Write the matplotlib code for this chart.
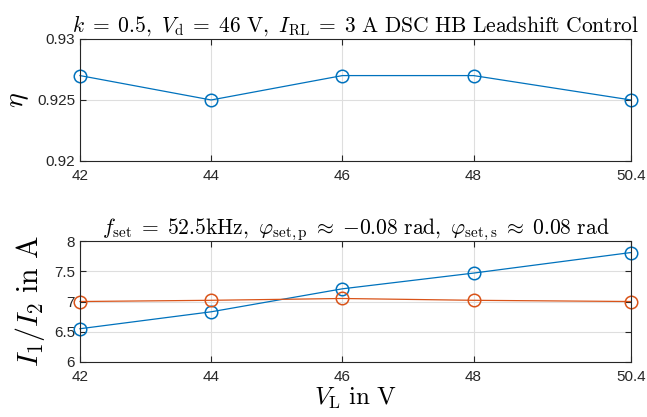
import matplotlib
matplotlib.use("Agg")
import matplotlib.pyplot as plt

plt.rcParams['font.family'] = ['Liberation Sans', 'DejaVu Sans']
plt.rcParams['mathtext.fontset'] = 'cm'

# Input voltage sweep
v_l = [42, 44, 46, 48, 50.4]
x_ticks = [42, 44, 46, 48, 50.4]
x_tick_labels = ['42', '44', '46', '48', '50.4']

# Efficiency
eta = [0.927, 0.925, 0.927, 0.927, 0.925]
eta_ticks = [0.92, 0.925, 0.93]
eta_tick_labels = ['0.92', '0.925', '0.93']

# Primary / secondary currents
i_1 = [6.55, 6.83, 7.21, 7.47, 7.81]
i_2 = [7.00, 7.02, 7.05, 7.02, 7.00]
i_ticks = [6, 6.5, 7, 7.5, 8]
i_tick_labels = ['6', '6.5', '7', '7.5', '8']

blue = '#0072BD'
orange = '#D95319'

fig = plt.figure(figsize=(6.47, 4.17), dpi=100)
ax1 = fig.add_axes([0.1236, 0.614, 0.8517, 0.2925])
ax2 = fig.add_axes([0.1236, 0.1319, 0.8517, 0.2901])


def style(ax):
    ax.grid(True, color='#dedede', linewidth=0.8)
    ax.set_axisbelow(True)
    ax.tick_params(direction='in', top=True, right=True, length=4,
                   width=0.8, labelsize=11, colors='#262626')
    ax.tick_params(axis='x', pad=6)
    for s in ax.spines.values():
        s.set_color('#262626')
        s.set_linewidth(0.8)
    ax.set_xlim(42, 50.4)
    ax.set_xticks(x_ticks)
    ax.set_xticklabels(x_tick_labels)


ax1.plot(v_l, eta, color=blue, linewidth=0.9, marker='o', markersize=9,
         markerfacecolor='none', markeredgewidth=1.1, clip_on=False)
style(ax1)
ax1.set_ylim(0.92, 0.93)
ax1.set_yticks(eta_ticks)
ax1.set_yticklabels(eta_tick_labels)
ax1.set_ylabel(r'$\eta$', fontsize=20, labelpad=4)
ax1.set_title(r'$k\;=\;0.5,\ V_\mathrm{d}\;=\;46\ \mathrm{V},\ I_\mathrm{RL}\;=\;3\ \mathrm{A\ DSC\ HB\ Leadshift\ Control}$',
              fontsize=15.5, pad=5)

ax2.plot(v_l, i_1, color=blue, linewidth=0.9, marker='o', markersize=9,
         markerfacecolor='none', markeredgewidth=1.1, clip_on=False)
ax2.plot(v_l, i_2, color=orange, linewidth=0.9, marker='o', markersize=9,
         markerfacecolor='none', markeredgewidth=1.1, clip_on=False)
style(ax2)
ax2.set_ylim(6, 8)
ax2.set_yticks(i_ticks)
ax2.set_yticklabels(i_tick_labels)
ax2.set_ylabel(r'$I_1/I_2\ \mathrm{in\ A}$', fontsize=21.5, labelpad=5)
ax2.set_xlabel(r'$V_\mathrm{L}\ \mathrm{in\ V}$', fontsize=18, labelpad=1)
ax2.set_title(r'$f_\mathrm{set}\;=\;52.5\mathrm{kHz},\ \varphi_\mathrm{set,p}\;\approx\;{-}0.08\ \mathrm{rad},\ \varphi_\mathrm{set,s}\;\approx\;0.08\ \mathrm{rad}$',
              fontsize=15.5, pad=5)

fig.savefig('out.png', dpi=100)
